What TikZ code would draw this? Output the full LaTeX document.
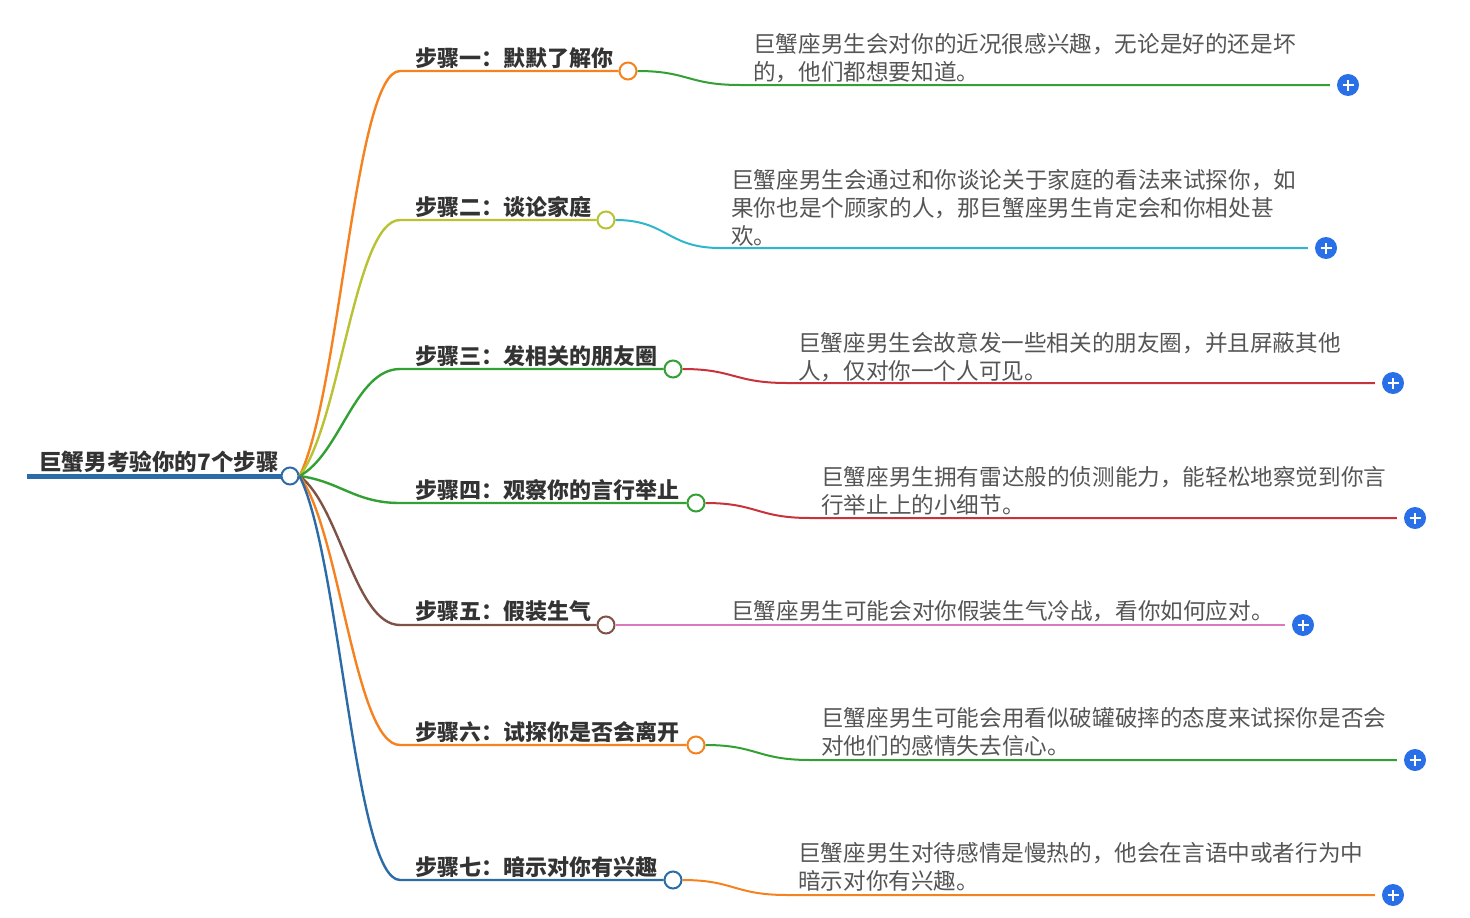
\documentclass[tikz,border=0pt]{standalone}
\usepackage{fontspec}
\newfontfamily\cjk{Noto Sans CJK SC}
\definecolor{cOrange}{HTML}{F5821F}
\definecolor{cOlive}{HTML}{B8C232}
\definecolor{cGreen}{HTML}{32A032}
\definecolor{cBrown}{HTML}{7E5247}
\definecolor{cBlue}{HTML}{2B6CA8}
\definecolor{cCyan}{HTML}{2DB6CC}
\definecolor{cRed}{HTML}{C8323A}
\definecolor{cPink}{HTML}{DC78BE}
\definecolor{cPlus}{HTML}{2970E8}
\definecolor{cDark}{HTML}{333333}
\definecolor{cGray}{HTML}{555555}
\begin{document}
\begin{tikzpicture}[x=1pt,y=-1pt,
  bline/.style={line width=2.4pt},
  lline/.style={line width=2pt, shorten >=7pt},
  bcirc/.style={circle, draw=#1, fill=white, line width=2pt, minimum size=17pt, inner sep=0pt},
  blabel/.style={anchor=west, inner sep=0pt, text=cDark, font=\cjk\bfseries\fontsize{22pt}{26pt}\selectfont},
  leaf/.style={anchor=west, inner sep=0pt, align=left, text=cGray, font=\cjk\fontsize{22.6pt}{28pt}\selectfont},
  plusicon/.style={circle, fill=cPlus, minimum size=22pt, inner sep=0pt,
    path picture={\draw[white, line width=2pt]
      ([xshift=-5.5pt]path picture bounding box.center) -- ([xshift=5.5pt]path picture bounding box.center)
      ([yshift=-5.5pt]path picture bounding box.center) -- ([yshift=5.5pt]path picture bounding box.center);}}
]
\useasboundingbox (0,0) rectangle (1470,918);

% root
\coordinate (r0) at (27,476);
\node[bcirc=cBlue] (r) at (290,476) {};
\draw[cBlue, line width=5pt] (r0) -- (r.west);
\node[anchor=west, inner sep=0pt, text=cDark, font=\cjk\bfseries\fontsize{22.6pt}{26pt}\selectfont] (rt) at (39,462) {巨蟹男考验你的7个步骤};

% branch circles
\node[bcirc=cOrange] (b1) at (628,71) {};
\node[bcirc=cOlive]  (b2) at (606,220) {};
\node[bcirc=cGreen]  (b3) at (673,369) {};
\node[bcirc=cGreen]  (b4) at (696,503) {};
\node[bcirc=cBrown]  (b5) at (606,625) {};
\node[bcirc=cOrange] (b6) at (696,745) {};
\node[bcirc=cBlue]   (b7) at (673,880) {};

% knee points
\coordinate (k1) at (400,71);
\coordinate (k2) at (400,220);
\coordinate (k3) at (400,369);
\coordinate (k4) at (400,503);
\coordinate (k5) at (400,625);
\coordinate (k6) at (400,745);
\coordinate (k7) at (400,880);

% branch connectors
\draw[bline, cOrange] (r.east) .. controls (340,395) and (355,71) .. (k1) -- (b1.west);
\draw[bline, cOlive]  (r.east) .. controls (340,424.8) and (355,220) .. (k2) -- (b2.west);
\draw[bline, cGreen]  (r.east) .. controls (340,454.6) and (355,369) .. (k3) -- (b3.west);
\draw[bline, cGreen]  (r.east) .. controls (340,481.4) and (355,503) .. (k4) -- (b4.west);
\draw[bline, cBrown]  (r.east) .. controls (340,505.8) and (355,625) .. (k5) -- (b5.west);
\draw[bline, cOrange] (r.east) .. controls (340,529.8) and (355,745) .. (k6) -- (b6.west);
\draw[bline, cBlue]   (r.east) .. controls (340,556.8) and (355,880) .. (k7) -- (b7.west);

% branch labels
\node[blabel] (t1) at (415,58)  {步骤一：默默了解你};
\node[blabel] (t2) at (415,207) {步骤二：谈论家庭};
\node[blabel] (t3) at (415,356) {步骤三：发相关的朋友圈};
\node[blabel] (t4) at (415,490) {步骤四：观察你的言行举止};
\node[blabel] (t5) at (415,611) {步骤五：假装生气};
\node[blabel] (t6) at (415,732) {步骤六：试探你是否会离开};
\node[blabel] (t7) at (415,867) {步骤七：暗示对你有兴趣};

% plus icons
\node[plusicon] (p1) at (1348,85) {};
\node[plusicon] (p2) at (1326,248) {};
\node[plusicon] (p3) at (1393,383) {};
\node[plusicon] (p4) at (1415,518) {};
\node[plusicon] (p5) at (1303,625) {};
\node[plusicon] (p6) at (1415,760) {};
\node[plusicon] (p7) at (1393,895) {};

% leaf bend points
\coordinate (m1) at (740,85);
\coordinate (m2) at (720,248);
\coordinate (m3) at (787,383);
\coordinate (m4) at (810,518);
\coordinate (m6) at (810,760);
\coordinate (m7) at (787,895);

% leaf connectors
\draw[lline, cGreen] (b1.east) .. controls (688,71) and (688,85) .. (m1) -- (p1.west);
\draw[lline, cCyan]  (b2.east) .. controls (667,220) and (667,248) .. (m2) -- (p2.west);
\draw[lline, cRed]   (b3.east) .. controls (734,369) and (734,383) .. (m3) -- (p3.west);
\draw[lline, cRed]   (b4.east) .. controls (757,503) and (757,518) .. (m4) -- (p4.west);
\draw[lline, cPink, line width=1.6pt] (b5.east) -- (p5.west);
\draw[lline, cGreen] (b6.east) .. controls (757,745) and (757,760) .. (m6) -- (p6.west);
\draw[lline, cOrange] (b7.east) .. controls (734,880) and (734,895) .. (m7) -- (p7.west);

% leaf texts
\node[leaf] (d1) at (753,58)  {巨蟹座男生会对你的近况很感兴趣，无论是好的还是坏\\的，他们都想要知道。};
\node[leaf] (d2) at (731,208) {巨蟹座男生会通过和你谈论关于家庭的看法来试探你，如\\果你也是个顾家的人，那巨蟹座男生肯定会和你相处甚\\欢。};
\node[leaf] (d3) at (798,357) {巨蟹座男生会故意发一些相关的朋友圈，并且屏蔽其他\\人，仅对你一个人可见。};
\node[leaf] (d4) at (821,491) {巨蟹座男生拥有雷达般的侦测能力，能轻松地察觉到你言\\行举止上的小细节。};
\node[leaf] (d5) at (731,611) {巨蟹座男生可能会对你假装生气冷战，看你如何应对。};
\node[leaf] (d6) at (821,732) {巨蟹座男生可能会用看似破罐破摔的态度来试探你是否会\\对他们的感情失去信心。};
\node[leaf] (d7) at (798,867) {巨蟹座男生对待感情是慢热的，他会在言语中或者行为中\\暗示对你有兴趣。};
\end{tikzpicture}
\end{document}
